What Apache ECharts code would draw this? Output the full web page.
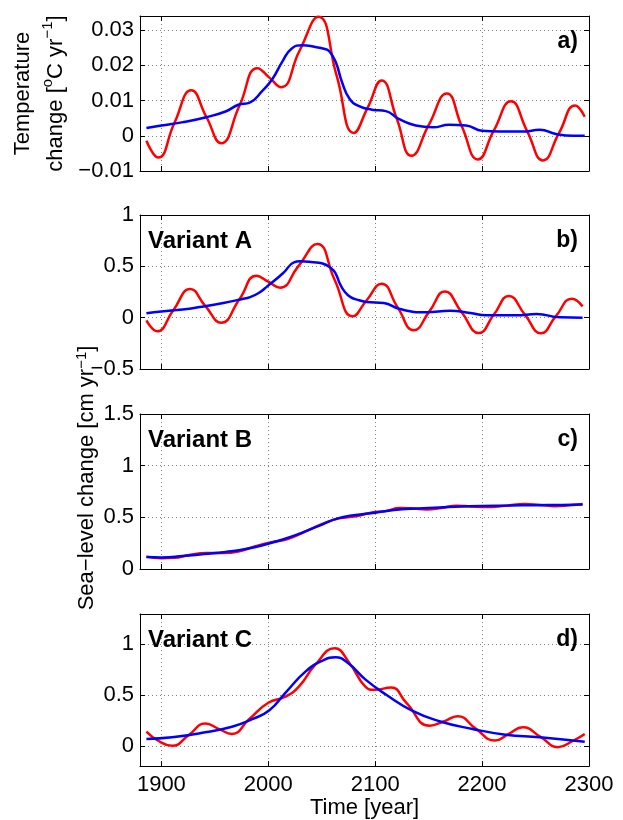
<!DOCTYPE html>
<html>
<head>
<meta charset="utf-8">
<script src="https://cdn.jsdelivr.net/npm/echarts@6/dist/echarts.min.js"></script>
<style>
  html, body { margin: 0; padding: 0; background: #fff; }
  #chart { width: 623px; height: 820px; }
</style>
</head>
<body>
<div id="chart"></div>
<script>
// tick values
var yearTicks = [1900, 2000, 2100, 2200, 2300];
var tempTicks = [-0.01, 0, 0.01, 0.02, 0.03];
var varATicks = [-0.5, 0, 0.5, 1];
var varBTicks = [0, 0.5, 1, 1.5];
var varCTicks = [0, 0.5, 1];

// a) temperature change [year, value]
var tempRed = [
  [1886, -0.0014], [1897, -0.0062], [1912, 0.0035], [1928, 0.0129], [1942, 0.0054],
  [1956, -0.0021], [1973, 0.0085], [1990, 0.0192], [2001, 0.0165], [2012, 0.0138],
  [2029, 0.0240], [2047, 0.0338], [2064, 0.0170], [2080, 0.0008], [2093, 0.0080],
  [2106, 0.0157], [2120, 0.0050], [2134, -0.0057], [2150, 0.0030], [2167, 0.0120],
  [2181, 0.0027], [2196, -0.0067], [2211, 0.0015], [2227, 0.0098], [2242, 0.0014],
  [2257, -0.0070], [2272, 0.0008], [2287, 0.0086], [2296, 0.0054]
];
var tempBlue = [
  [1886, 0.0022], [1900, 0.0029], [1919, 0.0038], [1941, 0.0052], [1960, 0.0069],
  [1972, 0.0088], [1983, 0.0095], [1994, 0.0126], [2004, 0.0162], [2013, 0.0210],
  [2022, 0.0248], [2032, 0.0257], [2044, 0.0252], [2052, 0.0247], [2057, 0.0240],
  [2063, 0.0210], [2069, 0.0152], [2076, 0.0105], [2085, 0.0084], [2097, 0.0074],
  [2110, 0.0070], [2122, 0.0048], [2138, 0.0029], [2154, 0.0024], [2169, 0.0031],
  [2185, 0.0029], [2200, 0.0014], [2216, 0.0012], [2238, 0.0012], [2254, 0.0017],
  [2269, 0.0005], [2285, 0.0000], [2296, 0.0000]
];

// b) variant A
var varARed = [
  [1886, -0.026], [1896, -0.133], [1911, 0.070], [1927, 0.279], [1941, 0.115],
  [1956, -0.049], [1973, 0.180], [1989, 0.409], [2000, 0.350], [2011, 0.292],
  [2028, 0.500], [2046, 0.718], [2062, 0.370], [2079, 0.013], [2092, 0.170],
  [2106, 0.331], [2121, 0.100], [2136, -0.123], [2151, 0.066], [2165, 0.256],
  [2181, 0.050], [2197, -0.149], [2211, 0.030], [2225, 0.211], [2240, 0.030],
  [2255, -0.153], [2269, 0.015], [2284, 0.185], [2294, 0.110]
];
var varABlue = [
  [1886, 0.042], [1900, 0.060], [1920, 0.080], [1936, 0.104], [1958, 0.143],
  [1975, 0.180], [1983, 0.200], [1991, 0.240], [1999, 0.305], [2014, 0.435],
  [2024, 0.539], [2030, 0.549], [2042, 0.540], [2050, 0.530], [2059, 0.480],
  [2063, 0.430], [2067, 0.330], [2071, 0.260], [2077, 0.200], [2085, 0.170],
  [2092, 0.153], [2108, 0.143], [2123, 0.084], [2148, 0.052], [2170, 0.068],
  [2189, 0.045], [2204, 0.023], [2232, 0.023], [2251, 0.036], [2273, 0.003],
  [2294, 0.000]
];

// c) variant B
var varBRed = [
  [1886, 0.120], [1900, 0.105], [1912, 0.108], [1926, 0.135], [1942, 0.155],
  [1958, 0.155], [1972, 0.170], [1988, 0.220], [2003, 0.260], [2018, 0.290],
  [2034, 0.360], [2050, 0.435], [2066, 0.490], [2082, 0.510], [2096, 0.545],
  [2110, 0.560], [2123, 0.590], [2136, 0.585], [2148, 0.575], [2162, 0.590],
  [2176, 0.612], [2190, 0.605], [2204, 0.600], [2222, 0.612], [2240, 0.628],
  [2254, 0.620], [2268, 0.608], [2282, 0.618], [2294, 0.630]
];
var varBBlue = [
  [1886, 0.116], [1900, 0.112], [1920, 0.125], [1940, 0.145], [1960, 0.165],
  [1980, 0.195], [2000, 0.245], [2015, 0.290], [2030, 0.345], [2048, 0.420],
  [2065, 0.490], [2080, 0.520], [2100, 0.545], [2125, 0.578], [2150, 0.590],
  [2175, 0.602], [2200, 0.610], [2225, 0.614], [2250, 0.618], [2275, 0.620],
  [2294, 0.625]
];

// d) variant C
var varCRed = [
  [1886, 0.140], [1897, 0.050], [1910, 0.000], [1926, 0.110], [1941, 0.220],
  [1954, 0.165], [1966, 0.117], [1982, 0.263], [2000, 0.425], [2016, 0.484],
  [2029, 0.588], [2044, 0.800], [2062, 0.961], [2076, 0.815], [2091, 0.581],
  [2099, 0.552], [2115, 0.575], [2129, 0.425], [2151, 0.198], [2164, 0.240],
  [2177, 0.292], [2194, 0.170], [2212, 0.052], [2225, 0.117], [2238, 0.182],
  [2255, 0.085], [2271, -0.013], [2285, 0.050], [2296, 0.117]
];
var varCBlue = [
  [1886, 0.068], [1910, 0.084], [1941, 0.133], [1966, 0.188], [1985, 0.263],
  [2001, 0.351], [2016, 0.523], [2035, 0.734], [2051, 0.841], [2063, 0.873],
  [2074, 0.821], [2091, 0.653], [2110, 0.506], [2135, 0.344], [2160, 0.243],
  [2191, 0.166], [2222, 0.110], [2254, 0.084], [2296, 0.039]
];

var font = 'Liberation Sans, Arial, Helvetica, sans-serif';
var black = '#000';
var fs = 22;

var panels = [
  { top: 16, height: 155, min: -0.01, max: 0.034, ticks: tempTicks, red: tempRed, blue: tempBlue, tag: 'a)', variant: '' },
  { top: 215, height: 154, min: -0.5, max: 1, ticks: varATicks, red: varARed, blue: varABlue, tag: 'b)', variant: 'Variant A' },
  { top: 414, height: 155, min: 0, max: 1.5, ticks: varBTicks, red: varBRed, blue: varBBlue, tag: 'c)', variant: 'Variant B' },
  { top: 614, height: 154, min: -0.2, max: 1.3, ticks: varCTicks, red: varCRed, blue: varCBlue, tag: 'd)', variant: 'Variant C' }
];

function fmt(v) { return String(v).replace('-', '\u2212'); }

var supRich = {
  n: { fontSize: fs, fontFamily: font, color: black, lineHeight: 33 },
  s: { fontSize: 15, fontFamily: font, color: black, lineHeight: 16, verticalAlign: 'top' }
};

var grid = [], xAxis = [], yAxis = [], series = [], graphic = [];

panels.forEach(function(p, i) {
  var last = i === panels.length - 1;
  var frame = { show: true, onZero: false, lineStyle: { color: black, width: 1 } };
  var dots = { show: true, lineStyle: { color: '#808080', type: [1, 3], width: 1 } };

  grid.push({ left: 140, width: 449, top: p.top, height: p.height });

  xAxis.push({
    type: 'value', gridIndex: i, position: 'bottom', min: 1880, max: 2300,
    axisLine: frame,
    axisTick: { show: true, inside: true, length: 5, customValues: yearTicks, lineStyle: { color: black } },
    axisLabel: { show: last, customValues: yearTicks, color: black, fontSize: fs, fontFamily: font, margin: 8, formatter: fmt },
    splitLine: dots,
    name: last ? 'Time [year]' : '',
    nameLocation: 'middle', nameGap: 30,
    nameTextStyle: { color: black, fontSize: fs, fontFamily: font }
  });
  xAxis.push({
    type: 'value', gridIndex: i, position: 'top', min: 1880, max: 2300,
    axisLine: frame,
    axisTick: { show: true, inside: true, length: 5, customValues: yearTicks, lineStyle: { color: black } },
    axisLabel: { show: false, customValues: yearTicks },
    splitLine: { show: false }
  });

  var leftY = {
    type: 'value', gridIndex: i, position: 'left', min: p.min, max: p.max,
    axisLine: frame,
    axisTick: { show: true, inside: true, length: 5, customValues: p.ticks, lineStyle: { color: black } },
    axisLabel: { show: true, customValues: p.ticks, color: black, fontSize: fs, fontFamily: font, margin: 6, formatter: fmt },
    splitLine: dots
  };
  if (i === 0) {
    leftY.name = '{n|Temperature}\n{n|change [}{s|o}{n|C yr}{s|\u22121}{n|]}';
    leftY.nameLocation = 'middle';
    leftY.nameRotate = 90;
    leftY.nameGap = 66;
    leftY.nameTextStyle = { rich: supRich, align: 'center' };
  }
  yAxis.push(leftY);
  yAxis.push({
    type: 'value', gridIndex: i, position: 'right', min: p.min, max: p.max,
    axisLine: frame,
    axisTick: { show: true, inside: true, length: 5, customValues: p.ticks, lineStyle: { color: black } },
    axisLabel: { show: false, customValues: p.ticks },
    splitLine: { show: false }
  });

  series.push({
    type: 'line', xAxisIndex: 2 * i, yAxisIndex: 2 * i, data: p.red,
    showSymbol: false, smooth: 0.5, animation: false,
    lineStyle: { color: '#ff0000', width: 2.5 }, itemStyle: { color: '#ff0000' }
  });
  series.push({
    type: 'line', xAxisIndex: 2 * i, yAxisIndex: 2 * i, data: p.blue,
    showSymbol: false, smooth: 0.5, animation: false,
    lineStyle: { color: '#0000ff', width: 2.5 }, itemStyle: { color: '#0000ff' }
  });

  graphic.push({
    type: 'text', x: 578, y: p.top + 26, z: 100,
    style: { text: p.tag, fill: black, fontSize: 23, fontWeight: 'bold', fontFamily: font,
             align: 'right', textAlign: 'right', verticalAlign: 'middle', textVerticalAlign: 'middle' }
  });
  if (p.variant) {
    graphic.push({
      type: 'text', x: 148, y: p.top + 26, z: 100,
      style: { text: p.variant, fill: black, fontSize: 24, fontWeight: 'bold', fontFamily: font,
               align: 'left', textAlign: 'left', verticalAlign: 'middle', textVerticalAlign: 'middle' }
    });
  }
});

graphic.push({
  type: 'text', x: 87, y: 478, rotation: Math.PI / 2, z: 100,
  style: {
    text: '{n|Sea\u2212level change [cm yr}{s|\u22121}{n|]}',
    rich: { n: { fontSize: fs, fontFamily: font, fill: black, lineHeight: 26 },
            s: { fontSize: 15, fontFamily: font, fill: black, lineHeight: 16, verticalAlign: 'top' } },
    align: 'center', textAlign: 'center', verticalAlign: 'middle', textVerticalAlign: 'middle'
  }
});

var chart = echarts.init(document.getElementById('chart'), null, { renderer: 'canvas' });
chart.setOption({
  animation: false,
  backgroundColor: '#fff',
  grid: grid,
  xAxis: xAxis,
  yAxis: yAxis,
  series: series,
  graphic: graphic
});
</script>
</body>
</html>
